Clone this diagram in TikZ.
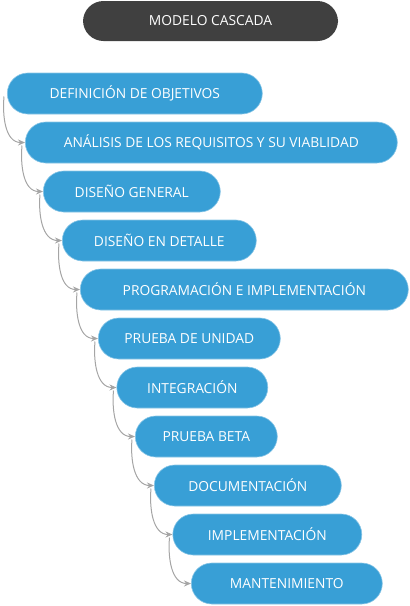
\documentclass[tikz,border=0pt]{standalone}
\usepackage{fontspec}
\setmainfont{Open Sans}
\usepackage{tikz}
\usetikzlibrary{positioning,arrows.meta,calc}
\definecolor{stepblue}{RGB}{56,159,214}
\definecolor{titlegray}{RGB}{64,64,64}
\definecolor{linkgray}{RGB}{165,165,165}

\tikzset{
  pill/.style={rounded corners=20.5pt, minimum height=41pt, inner sep=0pt,
    text=white, font=\fontsize{13.8}{16}\selectfont},
  stepbox/.style={pill, fill=stepblue, draw=stepblue!60!white, line width=0.6pt, anchor=west},
  link/.style={linkgray, line width=1pt, -{Stealth[length=7pt,width=6pt]}}
}

\begin{document}
\begin{tikzpicture}[x=1pt, y=-1pt]
\useasboundingbox (0,0) rectangle (410,606);

% Title
\node[pill, fill=titlegray, minimum width=255pt, minimum height=40pt] (title) at (210.5, 21) {MODELO CASCADA};

% Phases
\node[stepbox, minimum width=255pt] (defi) at (7, 93.5) {DEFINICIÓN DE OBJETIVOS};
\node[stepbox, minimum width=372pt] (anal) at (25, 142.5) {ANÁLISIS DE LOS REQUISITOS Y SU VIABLIDAD};
\node[stepbox, minimum width=177pt] (dgen) at (43, 191.5) {DISEÑO GENERAL};
\node[stepbox, minimum width=194pt] (ddet) at (62, 240.5) {DISEÑO EN DETALLE};
\node[stepbox, minimum width=328pt] (prog) at (80, 289.5) {PROGRAMACIÓN E IMPLEMENTACIÓN};
\node[stepbox, minimum width=182pt] (unid) at (98, 338.5) {PRUEBA DE UNIDAD};
\node[stepbox, minimum width=151pt] (inte) at (116.5, 387.5) {INTEGRACIÓN};
\node[stepbox, minimum width=142pt] (beta) at (135, 436.5) {PRUEBA BETA};
\node[stepbox, minimum width=187pt] (docu) at (154, 485.5) {DOCUMENTACIÓN};
\node[stepbox, minimum width=189pt] (impl) at (172.5, 534.5) {IMPLEMENTACIÓN};
\node[stepbox, minimum width=191pt] (mant) at (191, 583.5) {MANTENIMIENTO};

% Links
\foreach \a/\b in {defi/anal, anal/dgen, dgen/ddet, ddet/prog, prog/unid,
                   unid/inte, inte/beta, beta/docu, docu/impl, impl/mant} {
    \draw[link] ($(\a.west)+(-3,3)$) to[out=-95, in=180] (\b.west);
}

\end{tikzpicture}
\end{document}
